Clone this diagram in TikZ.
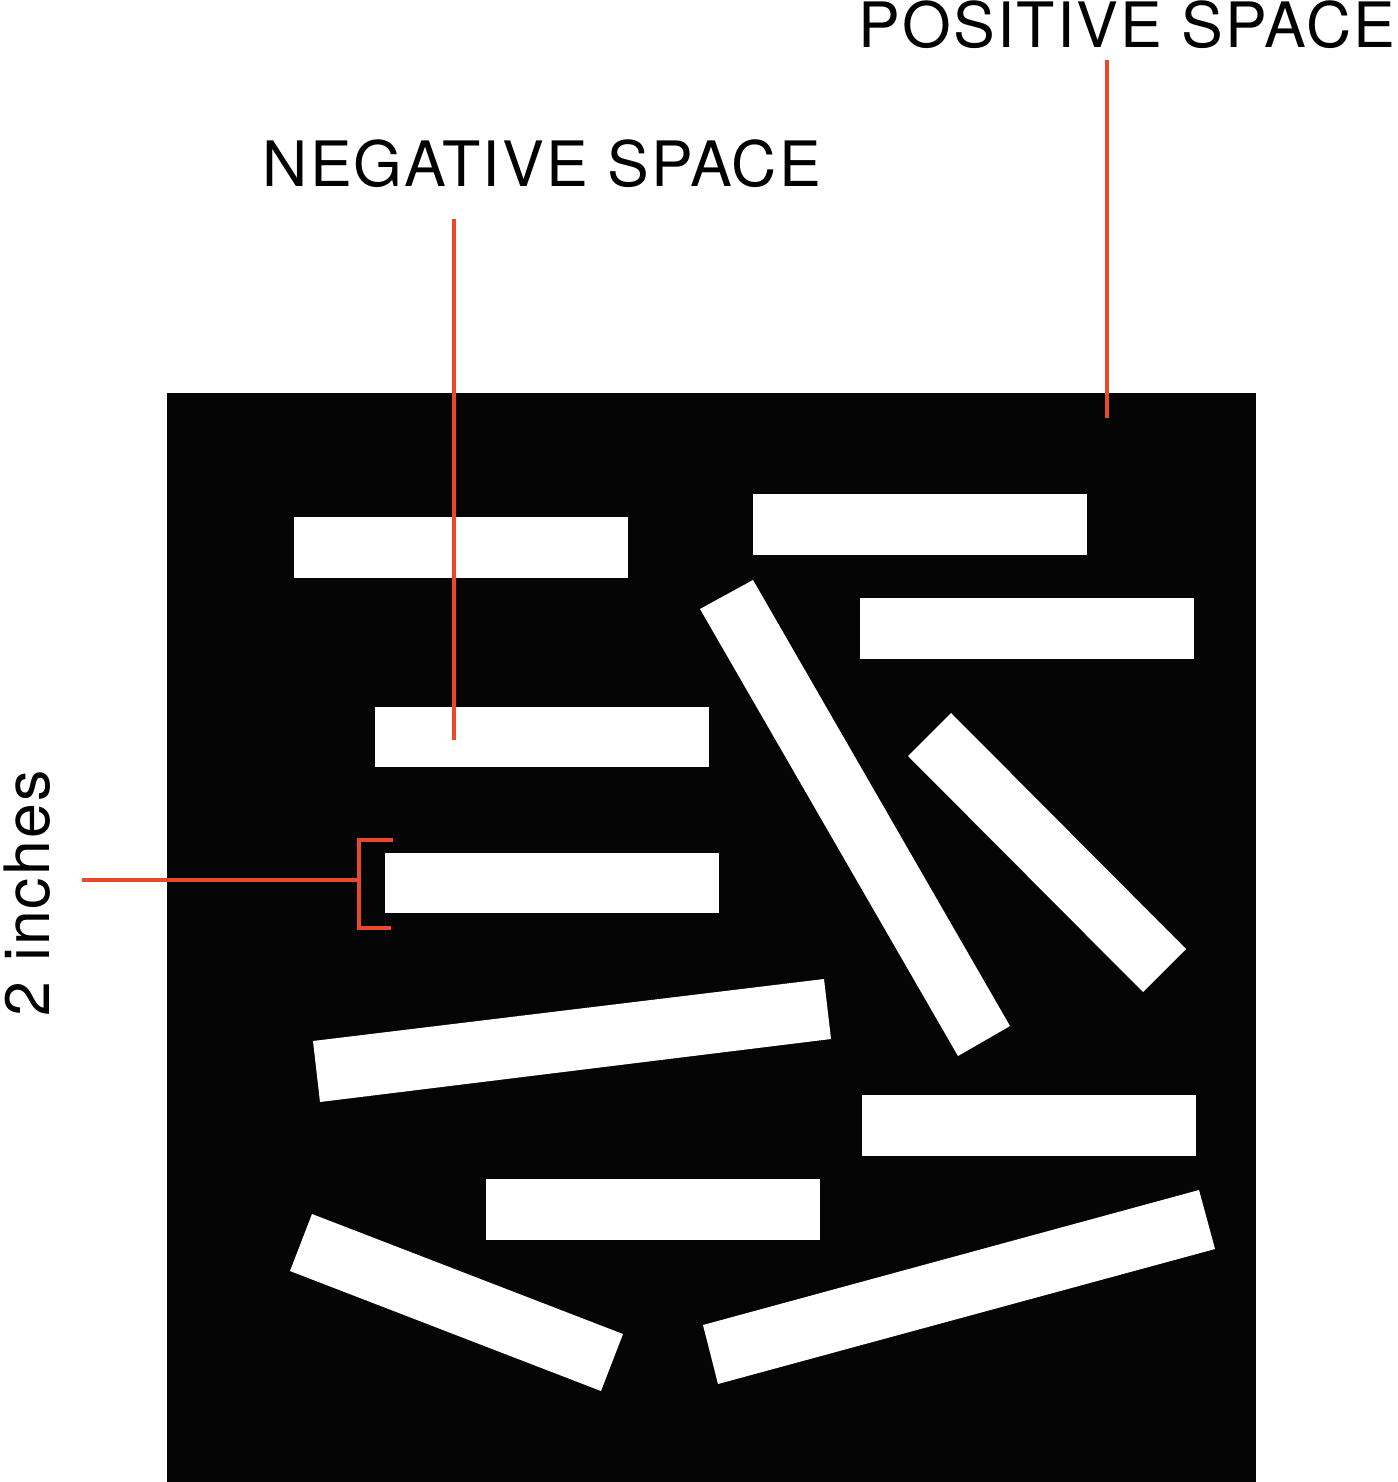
\documentclass[tikz,border=0pt]{standalone}
\usepackage{fontspec}
\newfontfamily\labelfont[LetterSpace=3.4]{TeX Gyre Heros}
\usepackage{tikz}
\usetikzlibrary{calc,positioning}
\usepackage{xcolor}
\definecolor{groundblack}{RGB}{5,5,5}
\definecolor{pointerred}{RGB}{233,72,42}

\begin{document}
\begin{tikzpicture}[
  x=0.01cm, y=-0.01cm,
  ground/.style={fill=groundblack},
  bar/.style={fill=white},
  pointer/.style={draw=pointerred, line width=1.25pt},
  caption/.style={font=\labelfont\fontsize{17.8pt}{20pt}\selectfont,
                  inner sep=0pt, anchor=base west, text=black},
]
\useasboundingbox (0,0) rectangle (1397,1482);

% the black square
\fill[ground] (167,393) rectangle (1256,1482);

% straight bars
\fill[bar] (294,517)  rectangle (628,578);
\fill[bar] (753,494)  rectangle (1087,555);
\fill[bar] (860,598)  rectangle (1194,659);
\fill[bar] (375,707)  rectangle (709,767);
\fill[bar] (385,853)  rectangle (719,913);
\fill[bar] (862,1095) rectangle (1196,1156);
\fill[bar] (486,1179) rectangle (820,1240);

% tilted bars
\fill[bar] (700,609) -- (753,580) -- (1010,1026) -- (958,1056) -- cycle;
\fill[bar] (908,756) -- (951,713) -- (1186,949) -- (1143,992) -- cycle;
\fill[bar] (313,1041) -- (824,979) -- (831,1039) -- (320,1102) -- cycle;
\fill[bar] (312,1214) -- (623,1334) -- (601,1391) -- (290,1271) -- cycle;
\fill[bar] (703,1325) -- (1199,1190) -- (1215,1249) -- (718,1384) -- cycle;

% labels
\node[caption] (positive) at (858,48)  {POSITIVE SPACE};
\node[caption] (negative) at (262,187) {NEGATIVE SPACE};
\node[caption, rotate=90] (inches) at (49,1017) {2 inches};

\coordinate (postop) at (1107,60);
\coordinate (posend) at (1107,418);
\coordinate (negtop) at (454,219);
\coordinate (negend) at (454,740);
\coordinate (inchstart) at (82,880);
\coordinate (brtop) at (359,840);
\coordinate (brbot) at (359,928);

\draw[pointer] (postop) -- (posend);
\draw[pointer] (negtop) -- (negend);
\draw[pointer] (inchstart) -- (brtop |- inchstart);
% bracket round the bar height
\draw[pointer] ($(brtop)+(34,0)$) -- (brtop) -- (brbot) -- ++(32,0);
\end{tikzpicture}
\end{document}
